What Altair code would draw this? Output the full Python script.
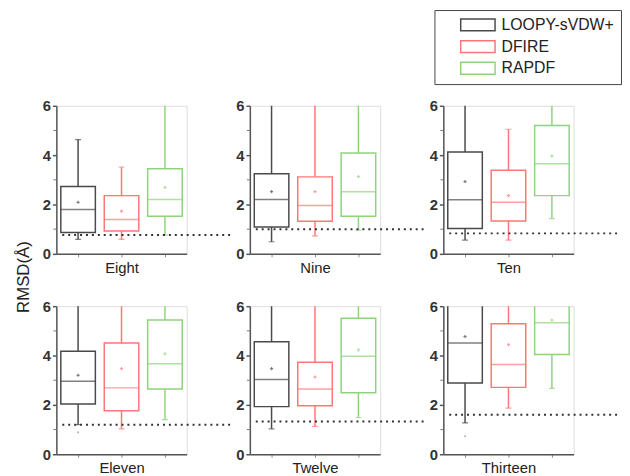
import altair as alt
import pandas as pd

panels = ["Eight", "Nine", "Ten", "Eleven", "Twelve", "Thirteen"]
methods = ["LOOPY-sVDW+", "DFIRE", "RAPDF"]
colors = ["#4a4a4a", "#ff7676", "#8fd47c"]

# statistics per panel (Eight..Thirteen)
loopy_low = [0.59, 0.49, 0.56, 1.20, 1.03, 1.27]
loopy_q1 = [0.87, 1.09, 1.03, 2.04, 1.93, 2.89]
loopy_med = [1.80, 2.20, 2.19, 2.96, 3.03, 4.51]
loopy_q3 = [2.73, 3.25, 4.13, 4.17, 4.56, 6.30]
loopy_high = [4.63, 6.20, 6.20, 6.20, 6.20, 6.30]
loopy_mean = [2.09, 2.52, 2.93, 3.20, 3.47, 4.77]

dfire_low = [0.59, 0.73, 0.56, 1.03, 1.13, 1.87]
dfire_q1 = [0.93, 1.32, 1.33, 1.76, 1.97, 2.71]
dfire_med = [1.39, 1.96, 2.09, 2.69, 2.64, 3.64]
dfire_q3 = [2.36, 3.12, 3.39, 4.51, 3.73, 5.29]
dfire_high = [3.52, 6.20, 5.05, 6.20, 6.20, 6.20]
dfire_mean = [1.73, 2.52, 2.36, 3.47, 3.13, 4.44]

rapdf_low = [0.76, 0.96, 1.43, 1.40, 1.49, 2.67]
rapdf_q1 = [1.52, 1.52, 2.36, 2.64, 2.49, 4.04]
rapdf_med = [2.20, 2.52, 3.65, 3.67, 3.97, 5.33]
rapdf_q3 = [3.45, 4.09, 5.20, 5.44, 5.51, 6.30]
rapdf_high = [6.20, 6.20, 6.20, 6.20, 6.20, 6.30]
rapdf_mean = [2.69, 3.13, 3.96, 4.07, 4.23, 5.44]

threshold = [0.76, 1.00, 0.83, 1.20, 1.33, 1.60]

outlier_panel = ["Eleven", "Thirteen"]
outlier_value = [0.89, 0.73]

y_ticks = [0, 2, 4, 6]
minor_ticks = [1, 3, 5]

stats = {
    "LOOPY-sVDW+": (loopy_low, loopy_q1, loopy_med, loopy_q3, loopy_high, loopy_mean),
    "DFIRE": (dfire_low, dfire_q1, dfire_med, dfire_q3, dfire_high, dfire_mean),
    "RAPDF": (rapdf_low, rapdf_q1, rapdf_med, rapdf_q3, rapdf_high, rapdf_mean),
}
rows = []
for k, m in enumerate(methods):
    lo, q1, md, q3, hi, mn = stats[m]
    for i, p in enumerate(panels):
        rows.append(dict(panel=p, method=m, clr=colors[k], low=lo[i], q1=q1[i],
                         median=md[i], q3=q3[i], high=hi[i], mean=mn[i]))
box_df = pd.DataFrame(rows)
thr_df = pd.DataFrame({"panel": panels, "thr": threshold})
out_df = pd.DataFrame({"panel": outlier_panel, "v": outlier_value})
minor_df = pd.DataFrame({"v": minor_ticks})

FONT = "Liberation Sans"
xscale = alt.Scale(domain=methods, paddingInner=0, paddingOuter=0)
yscale = alt.Scale(domain=[0, 6], nice=False)
cscale = alt.Scale(domain=methods, range=colors)

legend = alt.Legend(
    orient="none", legendX=383, legendY=-97, title=None,
    symbolType="M-2.9,-1L2.9,-1L2.9,1L-2.9,1Z", symbolSize=144,
    symbolStrokeWidth=1.5, symbolFillColor="white",
    labelFontSize=16, labelFont=FONT, labelColor="#222",
    strokeColor="#444", fillColor="white", padding=7, symbolOffset=29,
    labelOffset=16, rowPadding=4,
)


def make_panel(i):
    name = panels[i]
    d = box_df[box_df.panel == name]
    common = dict(values=y_ticks, grid=False, domainColor="#555",
                  domainWidth=1.5, tickColor="#555", tickSize=4, tickWidth=1.5,
                  labelFontSize=15, labelFontWeight="bold", labelFont=FONT,
                  labelColor="#333", labelPadding=2)
    if i == 0:
        yaxis = alt.Axis(title="RMSD(Å)", titleX=-24, titleY=173,
                         titleFontSize=17, titleFontWeight="normal", titleFont=FONT,
                         titleColor="#222", **common)
    else:
        yaxis = alt.Axis(title=None, **common)
    xaxis = alt.Axis(labels=False, title=name, titleFontSize=15, titleFontWeight="normal",
                     titleFont=FONT, titleColor="#222", titlePadding=3, domainColor="#555",
                     domainWidth=1.5, tickColor="#888", tickSize=3, grid=False)
    x = alt.X("method:N", scale=xscale, axis=xaxis)
    stroke_leg = alt.Stroke("method:N", scale=cscale, legend=legend)
    stroke = alt.Stroke("clr:N", scale=None)
    fill = alt.Fill("clr:N", scale=None)
    base = alt.Chart(d)

    box = base.mark_bar(fill="transparent", strokeWidth=1.5, width=35, clip=True).encode(
        x=x, y=alt.Y("q1:Q", scale=yscale, axis=yaxis), y2="q3:Q", stroke=stroke_leg)
    med = base.mark_tick(size=35, thickness=1.5, clip=True).encode(
        x=x, y=alt.Y("median:Q", scale=yscale, axis=yaxis), fill=fill)
    w_lo = base.mark_rule(strokeWidth=1.5, clip=True).encode(
        x=x, y=alt.Y("low:Q", scale=yscale, axis=yaxis), y2="q1:Q", stroke=stroke)
    w_hi = base.mark_rule(strokeWidth=1.5, clip=True).encode(
        x=x, y=alt.Y("q3:Q", scale=yscale, axis=yaxis), y2="high:Q", stroke=stroke)
    cap_lo = base.mark_tick(size=6, thickness=1.2, clip=True).encode(
        x=x, y=alt.Y("low:Q", scale=yscale, axis=yaxis), fill=fill)
    cap_hi = base.mark_tick(size=6, thickness=1.2, clip=True).encode(
        x=x, y=alt.Y("high:Q", scale=yscale, axis=yaxis), fill=fill)
    mean = base.mark_point(shape="cross", size=10, filled=True, clip=True, opacity=0.7).encode(
        x=x, y=alt.Y("mean:Q", scale=yscale, axis=yaxis), fill=fill)
    outl = alt.Chart(out_df[out_df.panel == name]).mark_point(
        shape="circle", size=5, filled=True, color="#999", clip=True).encode(
        x=alt.value(22), y=alt.Y("v:Q", scale=yscale, axis=yaxis))
    thr = alt.Chart(thr_df[thr_df.panel == name]).mark_rule(
        strokeDash=[2, 4], strokeWidth=2, color="#333").encode(
        y=alt.Y("thr:Q", scale=yscale, axis=yaxis), x=alt.value(6), x2=alt.value(176))
    minor = alt.Chart(minor_df).mark_rule(color="#777", strokeWidth=1).encode(
        y=alt.Y("v:Q", scale=yscale, axis=yaxis), x=alt.value(-3), x2=alt.value(0))

    return alt.layer(box, med, w_lo, w_hi, cap_lo, cap_hi, mean, outl, thr, minor).properties(
        width=132, height=150)


chart = alt.concat(*[make_panel(i) for i in range(6)], columns=3,
                   spacing={"row": 53, "column": 64}, bounds="flush").properties(
    padding={"left": 6, "top": -2, "right": 0, "bottom": 0}
).configure_view(stroke=None).configure(font=FONT)

chart.save("out.html", embed_options={"renderer": "svg", "actions": False})
